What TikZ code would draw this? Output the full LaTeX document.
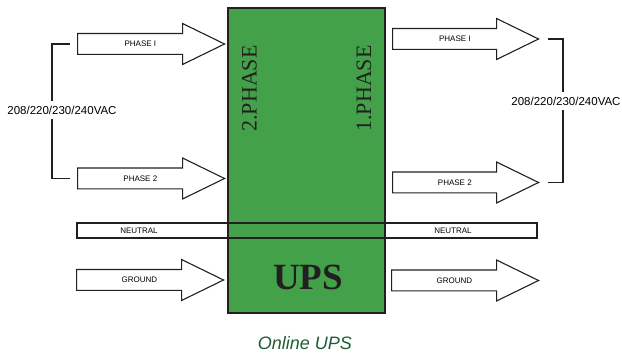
\documentclass[tikz,border=0pt]{standalone}
\usepackage{fontspec}
\setmainfont{Liberation Sans}
\newfontfamily\upsserif{Liberation Serif}
\usetikzlibrary{shapes.arrows}
\definecolor{upsgreen}{RGB}{67,161,73}
\definecolor{inkblack}{RGB}{35,31,32}
\definecolor{captiongreen}{RGB}{31,92,50}

\begin{document}
\begin{tikzpicture}[x=1pt,y=-1pt,
  feed/.style={single arrow, draw=inkblack, line width=1.1pt, fill=white,
    single arrow head extend=10pt, single arrow tip angle=52,
    minimum height=147pt, text height=5.8pt, text depth=0pt,
    inner ysep=7pt, inner xsep=2pt, font=\fontsize{8}{9}\selectfont, anchor=tail},
  volt/.style={font=\fontsize{11.5}{13}\selectfont, inner sep=5pt},
  wire/.style={draw=inkblack, line width=1.2pt}]
\useasboundingbox (0,0) rectangle (622,358);

\node (ups) at (306.5,160.5) [fill=upsgreen, draw=inkblack, line width=1.3pt, minimum width=157pt, minimum height=305pt]{};
\node (side2) at (249.5,88.5) [rotate=90, text=inkblack, font=\upsserif\fontsize{22}{24}\selectfont]{2.PHASE};
\node (side1) at (364,88.5) [rotate=90, text=inkblack, font=\upsserif\fontsize{22}{24}\selectfont]{1.PHASE};
\node (upsname) at (308,277) [text=inkblack, font=\upsserif\bfseries\fontsize{37}{40}\selectfont]{UPS};

% input side
\node (inA) at (77,44) [feed]{PHASE I};
\node (inB) at (77,178.5) [feed]{PHASE 2};
\node (inG) at (76,280) [feed]{GROUND};

% output side
\node (outA) at (392,39) [feed, minimum height=146pt]{PHASE I};
\node (outB) at (392,182.5) [feed, minimum height=146pt]{PHASE 2};
\node (outG) at (391,280.5) [feed]{GROUND};

\node (neutral) at (307,230.5) [draw=inkblack, line width=1.1pt, minimum width=460pt, minimum height=15pt, inner sep=0pt]{};
\node (neuL) at (139,231) [font=\fontsize{8}{9}\selectfont]{NEUTRAL};
\node (neuR) at (453,231) [font=\fontsize{8}{9}\selectfont]{NEUTRAL};

\node (vacL) at (62,110) [volt]{208/220/230/240VAC};
\node (vacR) at (566,101) [volt]{208/220/230/240VAC};

\draw [wire] ([xshift=-7pt]inA.tail) -| ([xshift=-10pt]vacL.north);
\draw [wire] ([xshift=-7pt]inB.tail) -| ([xshift=-10pt]vacL.south);
\draw [wire] ([xshift=8pt]outA.tip) -| ([xshift=-3pt]vacR.north);
\draw [wire] ([xshift=8pt]outB.tip) -| ([xshift=-3pt]vacR.south);

\node (caption) at (305,343) [text=captiongreen, font=\itshape\fontsize{18}{20}\selectfont]{Online UPS};
\end{tikzpicture}
\end{document}
